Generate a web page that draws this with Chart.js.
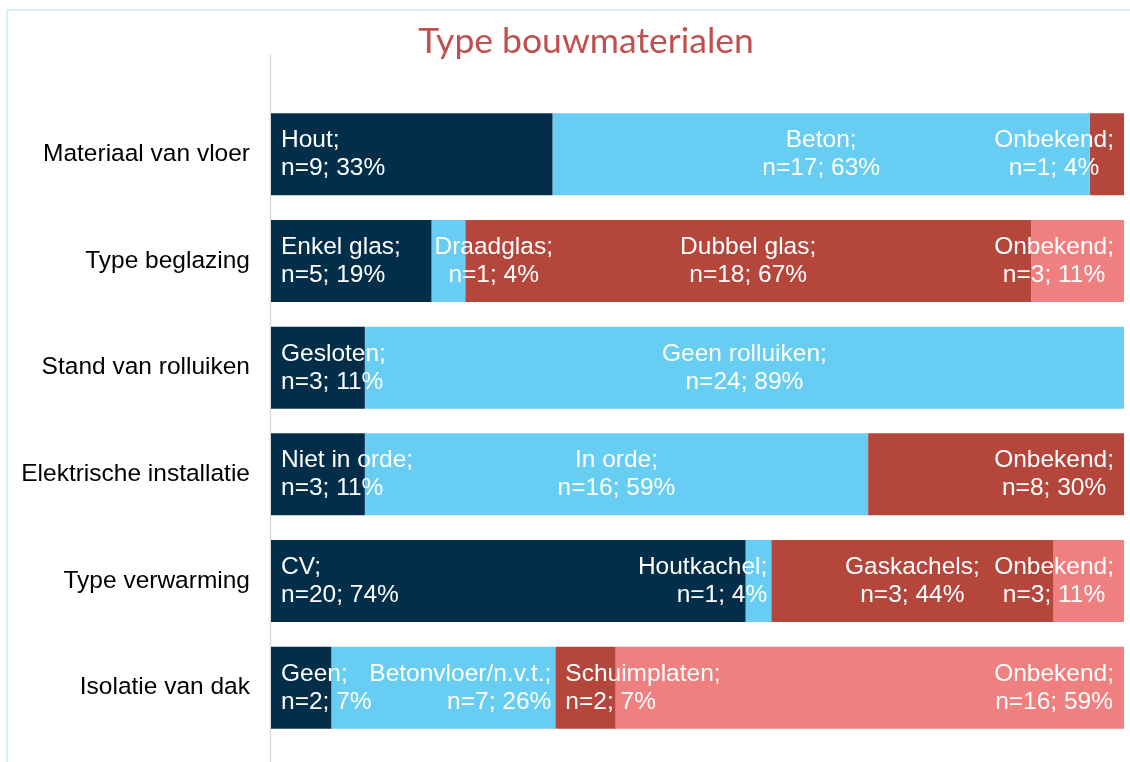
<!DOCTYPE html>
<html lang="nl">
<head>
<meta charset="utf-8">
<title>Type bouwmaterialen</title>
<script src="https://cdn.jsdelivr.net/npm/chart.js@4.4.1/dist/chart.umd.min.js"></script>
<style>
    html, body { margin: 0; padding: 0; background: #fff; overflow: hidden; }
    #wrap { position: relative; width: 1130px; height: 762px; }
    #frame { position: absolute; left: 6px; top: 9px; width: 1200px; height: 800px; border-left: 2px solid #d6f0fc; border-top: 2px solid #d6f0fc; pointer-events: none; }
    canvas { display: block; }
</style>
</head>
<body>
<div id="wrap">
    <canvas id="chart" width="1130" height="762"></canvas>
    <div id="frame"></div>
</div>
<script>
// --- data ---
const chartTitle = 'Type bouwmaterialen';
const categories = ['Materiaal van vloer', 'Type beglazing', 'Stand van rolluiken', 'Elektrische installatie', 'Type verwarming', 'Isolatie van dak'];

// segments per row, in order from left to right (null = no segment)
const names1 = ['Hout', 'Enkel glas', 'Gesloten', 'Niet in orde', 'CV', 'Geen'];
const counts1 = [9, 5, 3, 3, 20, 2];
const pct1 = [33, 19, 11, 11, 74, 7];

const names2 = ['Beton', 'Draadglas', 'Geen rolluiken', 'In orde', 'Houtkachel', 'Betonvloer/n.v.t.'];
const counts2 = [17, 1, 24, 16, 1, 7];
const pct2 = [63, 4, 89, 59, 4, 26];

const names3 = ['Onbekend', 'Dubbel glas', null, 'Onbekend', 'Gaskachels', 'Schuimplaten'];
const counts3 = [1, 18, null, 8, 3, 2];
const pct3 = [4, 67, null, 30, 44, 7];

const names4 = [null, 'Onbekend', null, null, 'Onbekend', 'Onbekend'];
const counts4 = [null, 3, null, null, 3, 16];
const pct4 = [null, 11, null, null, 11, 59];

// --- label placement (L = start, C = centre, R = end, RC = end with centred lines, LC = start with centred lines) ---
const align1 = ['L', 'L', 'L', 'L', 'L', 'L'];
const align2 = ['C', 'LC', 'C', 'C', 'R', 'R'];
const align3 = ['RC', 'C', null, 'RC', 'C', 'L'];
const align4 = [null, 'RC', null, null, 'RC', 'RC'];

const colors = ['#032e4a', '#68cdf3', '#b5463c', '#f07f80'];
const LABEL_FONT = '24.5px "Liberation Sans", Arial, sans-serif';

document.addEventListener('DOMContentLoaded', () => {

    const series = [
        { names: names1, counts: counts1, pct: pct1, align: align1 },
        { names: names2, counts: counts2, pct: pct2, align: align2 },
        { names: names3, counts: counts3, pct: pct3, align: align3 },
        { names: names4, counts: counts4, pct: pct4, align: align4 }
    ];

    // 100% stacked: each row is scaled to its own total
    const rowTotals = categories.map((c, i) => series.reduce((s, ser) => s + (ser.pct[i] || 0), 0));

    const datasets = series.map((ser, k) => ({
        label: 'reeks ' + (k + 1),
        data: ser.pct.map((v, i) => v == null ? null : v / rowTotals[i] * 100),
        backgroundColor: colors[k],
        borderWidth: 0,
        categoryPercentage: 1,
        barPercentage: 0.768
    }));

    // Title and the vertical axis line reaching above the first bar
    const decorations = {
        id: 'decorations',
        beforeDatasetsDraw(chart) {
            const ctx = chart.ctx;
            const x = chart.chartArea.left - 0.5;
            ctx.save();
            ctx.strokeStyle = '#d9d9d9';
            ctx.lineWidth = 1.5;
            ctx.beginPath();
            ctx.moveTo(x, 55);
            ctx.lineTo(x, 762);
            ctx.stroke();

            ctx.font = '35.5px Lato, "Open Sans", sans-serif';
            ctx.fillStyle = '#c0504d';
            ctx.textAlign = 'center';
            ctx.textBaseline = 'alphabetic';
            ctx.fillText(chartTitle, 586, 53);
            ctx.restore();
        }
    };

    // Two-line labels inside the segments
    const segmentLabels = {
        id: 'segmentLabels',
        afterDatasetsDraw(chart) {
            const ctx = chart.ctx;
            ctx.save();
            ctx.font = LABEL_FONT;
            ctx.fillStyle = '#ffffff';
            ctx.textBaseline = 'alphabetic';
            chart.data.datasets.forEach((ds, k) => {
                const ser = series[k];
                chart.getDatasetMeta(k).data.forEach((bar, i) => {
                    if (ser.names[i] == null) return;
                    const { x, base, y } = bar.getProps(['x', 'base', 'y'], true);
                    const lines = [ser.names[i] + ';', 'n=' + ser.counts[i] + '; ' + ser.pct[i] + '%'];
                    const w = Math.max(...lines.map(t => ctx.measureText(t).width));
                    const mode = ser.align[i];
                    const left = Math.min(x, base), right = Math.max(x, base);
                    let tx, ta;
                    if (mode === 'L') { tx = left + 10; ta = 'left'; }
                    else if (mode === 'LC') { tx = left + 3 + w / 2; ta = 'center'; }
                    else if (mode === 'R') { tx = right - 4; ta = 'right'; }
                    else if (mode === 'RC') { tx = right - 10 - w / 2; ta = 'center'; }
                    else { tx = (left + right) / 2; ta = 'center'; }
                    ctx.textAlign = ta;
                    ctx.fillText(lines[0], tx, y - 7);
                    ctx.fillText(lines[1], tx, y + 21);
                });
            });
            ctx.restore();
        }
    };

    new Chart(document.getElementById('chart').getContext('2d'), {
        type: 'bar',
        data: { labels: categories, datasets: datasets },
        options: {
            indexAxis: 'y',
            responsive: false,
            animation: false,
            events: [],
            layout: { padding: { left: 0, right: 6, top: 101, bottom: 21 } },
            scales: {
                x: { stacked: true, min: 0, max: 100, display: false },
                y: {
                    stacked: true,
                    grid: { display: false, drawTicks: false },
                    border: { display: false },
                    ticks: { color: '#000000', padding: 21, font: { family: '"Liberation Sans", Arial, sans-serif', size: 24.5 } },
                    afterFit(scale) {
                        scale.width = 271;
                        scale.paddingTop = 0;
                        scale.paddingBottom = 0;
                    }
                }
            },
            plugins: {
                legend: { display: false },
                tooltip: { enabled: false },
                title: { display: false }
            }
        },
        plugins: [decorations, segmentLabels]
    });
});
</script>
</body>
</html>
